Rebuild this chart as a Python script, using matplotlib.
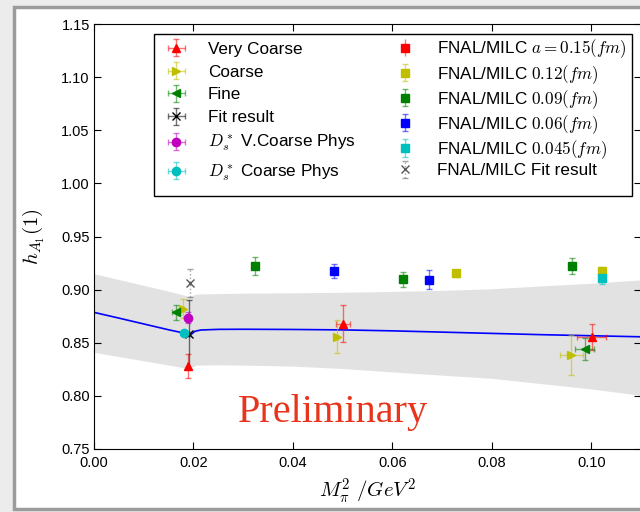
import matplotlib
matplotlib.use("Agg")
import matplotlib.pyplot as plt
from matplotlib.colors import to_rgba
from matplotlib.patches import Rectangle

plt.rcParams['font.family'] = ['Liberation Sans', 'DejaVu Sans']
plt.rcParams['mathtext.fontset'] = 'cm'

# chiral fit curve and its error band
curve_x = [0.0, 0.005, 0.010, 0.015, 0.018, 0.0192, 0.0197, 0.0203, 0.0215, 0.025,
           0.030, 0.040, 0.050, 0.060, 0.070, 0.080, 0.090, 0.100, 0.110]
curve_y = [0.8786, 0.8732, 0.8677, 0.8622, 0.8592, 0.8560, 0.8585, 0.8608, 0.8620, 0.8626,
           0.8627, 0.8625, 0.8621, 0.8612, 0.8600, 0.8588, 0.8576, 0.8566, 0.8556]

band_x = [0.0, 0.005, 0.010, 0.015, 0.0192, 0.0205, 0.025, 0.030, 0.040, 0.050,
          0.060, 0.070, 0.080, 0.090, 0.100, 0.110]
band_hi = [0.9150, 0.9095, 0.9040, 0.8985, 0.8935, 0.8958, 0.8963, 0.8967, 0.8970, 0.8975,
           0.8983, 0.8993, 0.9008, 0.9035, 0.9060, 0.9092]
band_lo = [0.8410, 0.8370, 0.8330, 0.8290, 0.8255, 0.8290, 0.8292, 0.8290, 0.8280, 0.8258,
           0.8225, 0.8195, 0.8165, 0.8115, 0.8065, 0.8005]

# lattice ensembles (this work)
vcoarse_x = [0.0190, 0.0501, 0.1001]
vcoarse_y = [0.8285, 0.8680, 0.8556]
vcoarse_yerr = [0.0113, 0.0173, 0.0125]
vcoarse_xerr = [0.0, 0.0014, 0.0029]

coarse_x = [0.0178, 0.0488, 0.0960]
coarse_y = [0.8820, 0.8557, 0.8385]
coarse_yerr = [0.0090, 0.0157, 0.0184]
coarse_xerr = [0.0003, 0.0003, 0.0023]

fine_x = [0.0164, 0.0987]
fine_y = [0.8786, 0.8440]
fine_yerr = [0.0068, 0.0104]
fine_xerr = [0.0008, 0.0019]

fit_x = [0.0191]
fit_y = [0.858]
fit_yerr = [0.0325]
fit_xerr = [0.0]

ds_vc_x = [0.0190]
ds_vc_y = [0.8735]
ds_vc_yerr = [0.005]

ds_c_x = [0.0180]
ds_c_y = [0.8590]
ds_c_yerr = [0.003]

# FNAL/MILC points
fnal15_x, fnal15_y, fnal15_yerr = [], [], []
fnal12_x = [0.0728, 0.1022]
fnal12_y = [0.9152, 0.9180]
fnal12_yerr = [0.003, 0.003]
fnal09_x = [0.0323, 0.0622, 0.0961]
fnal09_y = [0.9220, 0.9096, 0.9222]
fnal09_yerr = [0.0085, 0.0070, 0.0074]
fnal06_x = [0.0482, 0.0674]
fnal06_y = [0.9172, 0.9095]
fnal06_yerr = [0.0065, 0.0087]
fnal045_x = [0.1022]
fnal045_y = [0.9105]
fnal045_yerr = [0.0055]
fnalfit_x = [0.0193]
fnalfit_y = [0.906]
fnalfit_yerr = [0.013]


def draw_set(ax, x, y, yerr, xerr, color, marker, label, ms=6):
    return ax.errorbar(x, y, yerr=yerr, xerr=xerr, fmt=marker, color=color,
                       ecolor=to_rgba(color, 0.55), mec=color, ms=ms,
                       capsize=2.5, elinewidth=1, capthick=1, label=label, zorder=3)


def legend_column(ax, handles, x, y, spacing):
    return ax.legend(handles=handles, loc='upper left', bbox_to_anchor=(x, y),
                     borderaxespad=0, fontsize=12.3, numpoints=1, handlelength=1.8,
                     handletextpad=0.97, borderpad=0.39, labelspacing=spacing,
                     frameon=False)


fig = plt.figure(figsize=(6.4, 5.12), dpi=100, facecolor='#ececec')
# slide frame around the plot
fig.patches.append(Rectangle((14 / 640, 3 / 512), 0.99, 502 / 512,
                             transform=fig.transFigure, facecolor='white',
                             edgecolor='#9c9c9c', lw=2.5, zorder=-10))
ax = fig.add_axes([94 / 640, 63 / 512, 547 / 640, 425 / 512])

ax.fill_between(band_x, band_lo, band_hi, color='#e2e2e2', lw=0, zorder=1)
ax.plot(curve_x, curve_y, color='b', lw=1.2, zorder=2)

h = []
h.append(draw_set(ax, vcoarse_x, vcoarse_y, vcoarse_yerr, vcoarse_xerr, 'r', '^', 'Very Coarse'))
h.append(draw_set(ax, coarse_x, coarse_y, coarse_yerr, coarse_xerr, 'y', '>', 'Coarse'))
h.append(draw_set(ax, fine_x, fine_y, fine_yerr, fine_xerr, 'g', '<', 'Fine'))
h.append(draw_set(ax, fit_x, fit_y, fit_yerr, fit_xerr, 'k', 'x', 'Fit result'))
h.append(draw_set(ax, ds_vc_x, ds_vc_y, ds_vc_yerr, [0.0], 'm', 'o', r'$D_s^*$ V.Coarse Phys'))
h.append(draw_set(ax, ds_c_x, ds_c_y, ds_c_yerr, [0.0], 'c', 'o', r'$D_s^*$ Coarse Phys'))
h.append(draw_set(ax, fnal15_x, fnal15_y, fnal15_yerr, None, 'r', 's', r'FNAL/MILC $a=0.15(fm)$'))
h.append(draw_set(ax, fnal12_x, fnal12_y, fnal12_yerr, None, 'y', 's', r'FNAL/MILC $0.12(fm)$'))
h.append(draw_set(ax, fnal09_x, fnal09_y, fnal09_yerr, None, 'g', 's', r'FNAL/MILC $0.09(fm)$'))
h.append(draw_set(ax, fnal06_x, fnal06_y, fnal06_yerr, None, 'b', 's', r'FNAL/MILC $0.06(fm)$'))
h.append(draw_set(ax, fnal045_x, fnal045_y, fnal045_yerr, None, 'c', 's', r'FNAL/MILC $0.045(fm)$'))
fnalfit = draw_set(ax, fnalfit_x, fnalfit_y, fnalfit_yerr, None, '0.35', 'x', 'FNAL/MILC Fit result')
fnalfit[2][0].set_linestyle(':')
h.append(fnalfit)

ax.set_xlim(0, 0.11)
ax.set_ylim(0.75, 1.15)
ax.set_xticks([0.0, 0.02, 0.04, 0.06, 0.08, 0.10])
ax.set_yticks([0.75, 0.80, 0.85, 0.90, 0.95, 1.00, 1.05, 1.10, 1.15])
ax.tick_params(direction='in', top=True, right=True, length=5, width=0.8, labelsize=10.5)
ax.tick_params(axis='y', pad=3)
ax.tick_params(axis='x', pad=5)

ax.set_xlabel(r'$M_\pi^2\ /GeV^2$', fontsize=15, labelpad=5)
ax.set_ylabel(r'$h_{A_1}(1)$', fontsize=15, labelpad=10)

ax.text(0.048, 0.784, 'Preliminary', color='#e8341c', fontsize=29,
        family='Liberation Serif', ha='center', va='center')

# two-column legend inside one box; columns laid out separately so rows line up
ax.add_patch(Rectangle((0.1097, 0.5953), 0.8738, 0.3812, transform=ax.transAxes,
                       facecolor='white', edgecolor='k', lw=1, zorder=4.5))
left_leg = legend_column(ax, h[:6], 0.1097, 0.9741, 0.46)
ax.add_artist(left_leg)
legend_column(ax, h[6:], 0.5283, 0.9835, 0.14)

fig.savefig('out.png', dpi=100, facecolor=fig.get_facecolor())
